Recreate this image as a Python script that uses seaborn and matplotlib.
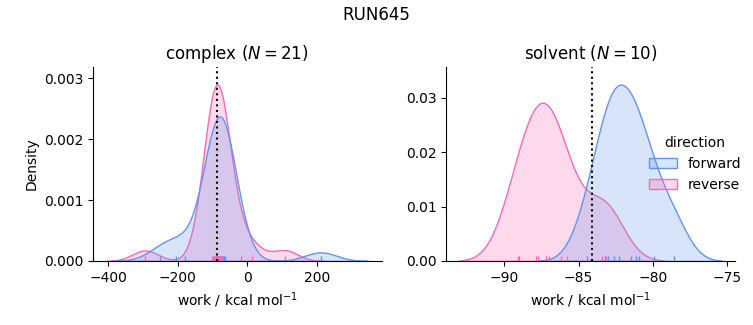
import numpy as np
import pandas as pd
import matplotlib
matplotlib.use("Agg")
import matplotlib.pyplot as plt
import seaborn as sns

# --- data ---
run_name = "RUN645"
phases = ["complex", "solvent"]
directions = ["forward", "reverse"]

complex_forward = [-250, -205, -180, 212,
                   -92, -89, -87, -85, -83, -82, -80, -79, -78, -77, -76,
                   -74, -72, -70, -68, -66, -63]
complex_reverse = [-293, -18, 13, 109,
                   -100, -97, -95, -93, -91, -90, -89, -88, -87, -86, -85,
                   -84, -82, -80, -78, -76, -73]
solvent_forward = [-84.4, -83.25, -83.0, -82.6, -82.3, -81.5, -81.1, -80.9,
                   -79.9, -78.6]
solvent_reverse = [-89.1, -89.0, -87.85, -87.74, -87.17, -87.0, -86.2,
                   -85.8, -83.4, -83.14]
estimates = {"complex": -86.0, "solvent": -84.1}

colors = {"forward": "cornflowerblue", "reverse": "hotpink"}

# --- build table ---
series = {
    ("complex", "forward"): complex_forward,
    ("complex", "reverse"): complex_reverse,
    ("solvent", "forward"): solvent_forward,
    ("solvent", "reverse"): solvent_reverse,
}
rows = []
for (ph, d), vals in series.items():
    for v in vals:
        rows.append({"phase": ph, "direction": d, "work": v})
df = pd.DataFrame(rows)

g = sns.displot(
    data=df, x="work", hue="direction", col="phase", kind="kde",
    rug=True, fill=True, palette=colors, hue_order=directions,
    col_order=phases, facet_kws=dict(sharex=False, sharey=False),
    height=3, aspect=1.2,
)

fig = g.figure
fig.set_size_inches(7.53, 3.25)
fig.set_dpi(100)

for ax, ph in zip(g.axes.flat, phases):
    n = len(series[(ph, "forward")])
    ax.set_title(f"{ph} ($N={n}$)", fontsize=12)
    ax.set_xlabel(r"work / kcal mol$^{-1}$")
    top = ax.get_ylim()[1]
    ax.axvline(estimates[ph], color="black", ls=":", lw=1.5)
    ax.set_ylim(0, top)

g.axes.flat[0].set_ylabel("Density")
g.axes.flat[1].set_ylabel("")

fig.suptitle(run_name, fontsize=12)
fig.subplots_adjust(left=0.1235, right=0.976, bottom=0.197, top=0.794,
                    wspace=0.225)
sns.move_legend(g, "upper left", bbox_to_anchor=(0.845, 0.62), frameon=False)

fig.savefig("out.png", dpi=100)
